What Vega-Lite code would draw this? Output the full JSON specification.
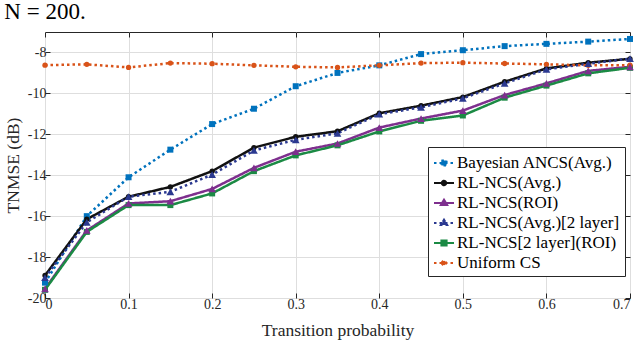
{
  "$schema": "https://vega.github.io/schema/vega-lite/v6.json",
  "width": 585,
  "height": 266,
  "autosize": "none",
  "padding": {"left": 45, "top": 32, "right": 10, "bottom": 65},
  "background": "white",
  "title": {"text": "N = 200.", "anchor": "start", "dx": 0, "dy": 13, "offset": 3, "baseline": "alphabetic", "font": "Liberation Serif", "fontSize": 23, "fontWeight": "normal", "color": "#000000"},
  "config": {
    "font": "Liberation Serif",
    "view": {"stroke": "#262626", "strokeWidth": 1},
    "axis": {"gridColor": "#dedede", "gridWidth": 1, "domain": false, "tickColor": "#262626", "tickSize": -5, "labelFont": "Liberation Serif", "labelFontSize": 14, "labelColor": "#262626", "titleFont": "Liberation Serif", "titleFontSize": 17.5, "titleFontWeight": "normal", "titleColor": "#262626"},
    "legend": {"labelFont": "Liberation Serif", "labelFontSize": 17, "symbolSize": 400, "symbolStrokeWidth": 2, "symbolOpacity": 1}
  },
  "data": {"values": [
    {"p":0,"s":"Bayesian ANCS(Avg.)","v":-19.25},{"p":0.05,"s":"Bayesian ANCS(Avg.)","v":-16.0},{"p":0.1,"s":"Bayesian ANCS(Avg.)","v":-14.1},{"p":0.15,"s":"Bayesian ANCS(Avg.)","v":-12.75},{"p":0.2,"s":"Bayesian ANCS(Avg.)","v":-11.5},{"p":0.25,"s":"Bayesian ANCS(Avg.)","v":-10.75},{"p":0.3,"s":"Bayesian ANCS(Avg.)","v":-9.65},{"p":0.35,"s":"Bayesian ANCS(Avg.)","v":-9.0},{"p":0.4,"s":"Bayesian ANCS(Avg.)","v":-8.63},{"p":0.45,"s":"Bayesian ANCS(Avg.)","v":-8.08},{"p":0.5,"s":"Bayesian ANCS(Avg.)","v":-7.89},{"p":0.55,"s":"Bayesian ANCS(Avg.)","v":-7.69},{"p":0.6,"s":"Bayesian ANCS(Avg.)","v":-7.58},{"p":0.65,"s":"Bayesian ANCS(Avg.)","v":-7.47},{"p":0.7,"s":"Bayesian ANCS(Avg.)","v":-7.34},
    {"p":0,"s":"RL-NCS(Avg.)","v":-18.9},{"p":0.05,"s":"RL-NCS(Avg.)","v":-16.15},{"p":0.1,"s":"RL-NCS(Avg.)","v":-15.05},{"p":0.15,"s":"RL-NCS(Avg.)","v":-14.57},{"p":0.2,"s":"RL-NCS(Avg.)","v":-13.8},{"p":0.25,"s":"RL-NCS(Avg.)","v":-12.65},{"p":0.3,"s":"RL-NCS(Avg.)","v":-12.12},{"p":0.35,"s":"RL-NCS(Avg.)","v":-11.85},{"p":0.4,"s":"RL-NCS(Avg.)","v":-10.97},{"p":0.45,"s":"RL-NCS(Avg.)","v":-10.6},{"p":0.5,"s":"RL-NCS(Avg.)","v":-10.18},{"p":0.55,"s":"RL-NCS(Avg.)","v":-9.43},{"p":0.6,"s":"RL-NCS(Avg.)","v":-8.78},{"p":0.65,"s":"RL-NCS(Avg.)","v":-8.5},{"p":0.7,"s":"RL-NCS(Avg.)","v":-8.31},
    {"p":0,"s":"RL-NCS(ROI)","v":-19.55},{"p":0.05,"s":"RL-NCS(ROI)","v":-16.7},{"p":0.1,"s":"RL-NCS(ROI)","v":-15.38},{"p":0.15,"s":"RL-NCS(ROI)","v":-15.27},{"p":0.2,"s":"RL-NCS(ROI)","v":-14.67},{"p":0.25,"s":"RL-NCS(ROI)","v":-13.64},{"p":0.3,"s":"RL-NCS(ROI)","v":-12.85},{"p":0.35,"s":"RL-NCS(ROI)","v":-12.45},{"p":0.4,"s":"RL-NCS(ROI)","v":-11.67},{"p":0.45,"s":"RL-NCS(ROI)","v":-11.23},{"p":0.5,"s":"RL-NCS(ROI)","v":-10.84},{"p":0.55,"s":"RL-NCS(ROI)","v":-10.08},{"p":0.6,"s":"RL-NCS(ROI)","v":-9.51},{"p":0.65,"s":"RL-NCS(ROI)","v":-8.9},{"p":0.7,"s":"RL-NCS(ROI)","v":-8.7},
    {"p":0,"s":"RL-NCS(Avg.)[2 layer]","v":-19.0},{"p":0.05,"s":"RL-NCS(Avg.)[2 layer]","v":-16.3},{"p":0.1,"s":"RL-NCS(Avg.)[2 layer]","v":-15.05},{"p":0.15,"s":"RL-NCS(Avg.)[2 layer]","v":-14.81},{"p":0.2,"s":"RL-NCS(Avg.)[2 layer]","v":-13.97},{"p":0.25,"s":"RL-NCS(Avg.)[2 layer]","v":-12.79},{"p":0.3,"s":"RL-NCS(Avg.)[2 layer]","v":-12.27},{"p":0.35,"s":"RL-NCS(Avg.)[2 layer]","v":-11.95},{"p":0.4,"s":"RL-NCS(Avg.)[2 layer]","v":-11.02},{"p":0.45,"s":"RL-NCS(Avg.)[2 layer]","v":-10.68},{"p":0.5,"s":"RL-NCS(Avg.)[2 layer]","v":-10.24},{"p":0.55,"s":"RL-NCS(Avg.)[2 layer]","v":-9.51},{"p":0.6,"s":"RL-NCS(Avg.)[2 layer]","v":-8.83},{"p":0.65,"s":"RL-NCS(Avg.)[2 layer]","v":-8.55},{"p":0.7,"s":"RL-NCS(Avg.)[2 layer]","v":-8.3},
    {"p":0,"s":"RL-NCS[2 layer](ROI)","v":-19.6},{"p":0.05,"s":"RL-NCS[2 layer](ROI)","v":-16.77},{"p":0.1,"s":"RL-NCS[2 layer](ROI)","v":-15.46},{"p":0.15,"s":"RL-NCS[2 layer](ROI)","v":-15.46},{"p":0.2,"s":"RL-NCS[2 layer](ROI)","v":-14.89},{"p":0.25,"s":"RL-NCS[2 layer](ROI)","v":-13.8},{"p":0.3,"s":"RL-NCS[2 layer](ROI)","v":-13.03},{"p":0.35,"s":"RL-NCS[2 layer](ROI)","v":-12.54},{"p":0.4,"s":"RL-NCS[2 layer](ROI)","v":-11.86},{"p":0.45,"s":"RL-NCS[2 layer](ROI)","v":-11.34},{"p":0.5,"s":"RL-NCS[2 layer](ROI)","v":-11.08},{"p":0.55,"s":"RL-NCS[2 layer](ROI)","v":-10.21},{"p":0.6,"s":"RL-NCS[2 layer](ROI)","v":-9.62},{"p":0.65,"s":"RL-NCS[2 layer](ROI)","v":-9.02},{"p":0.7,"s":"RL-NCS[2 layer](ROI)","v":-8.75},
    {"p":0,"s":"Uniform CS","v":-8.62},{"p":0.05,"s":"Uniform CS","v":-8.58},{"p":0.1,"s":"Uniform CS","v":-8.73},{"p":0.15,"s":"Uniform CS","v":-8.52},{"p":0.2,"s":"Uniform CS","v":-8.55},{"p":0.25,"s":"Uniform CS","v":-8.63},{"p":0.3,"s":"Uniform CS","v":-8.7},{"p":0.35,"s":"Uniform CS","v":-8.73},{"p":0.4,"s":"Uniform CS","v":-8.63},{"p":0.45,"s":"Uniform CS","v":-8.52},{"p":0.5,"s":"Uniform CS","v":-8.5},{"p":0.55,"s":"Uniform CS","v":-8.54},{"p":0.6,"s":"Uniform CS","v":-8.58},{"p":0.65,"s":"Uniform CS","v":-8.63},{"p":0.7,"s":"Uniform CS","v":-8.62}
  ]},
  "encoding": {
    "x": {"field": "p", "type": "quantitative", "scale": {"domain": [0, 0.7], "nice": false, "zero": false}, "axis": {"values": [0,0.1,0.2,0.3,0.4,0.5,0.6,0.7], "labelExpr": "'' + datum.value", "title": "Transition probability", "titlePadding": 10, "labelPadding": 4}},
    "y": {"field": "v", "type": "quantitative", "scale": {"domain": [-20, -7], "nice": false, "zero": false}, "axis": {"values": [-20,-18,-16,-14,-12,-10,-8], "labelExpr": "'' + datum.value", "title": "TNMSE (dB)", "titlePadding": 5, "labelPadding": 4}},
    "color": {"field": "s", "type": "nominal", "sort": null,
      "scale": {"domain": ["Bayesian ANCS(Avg.)","RL-NCS(Avg.)","RL-NCS(ROI)","RL-NCS(Avg.)[2 layer]","RL-NCS[2 layer](ROI)","Uniform CS"], "range": ["#0072BD","#111111","#7E2F8E","#2B3990","#1B8A44","#D95319"]},
      "legend": {"title": null, "orient": "none", "legendX": 383, "legendY": 115, "padding": 5, "strokeColor": "#262626", "fillColor": "white", "labelFont": "Liberation Serif", "labelFontSize": 17, "labelColor": "#000000", "labelLimit": 300, "symbolSize": 400, "symbolStrokeWidth": 2, "symbolOpacity": 1, "rowPadding": 1, "labelOffset": 2}}
  },
  "layer": [
    {
      "layer": [
        {
          "mark": {"type": "line", "strokeWidth": 2.5},
          "encoding": {
            "strokeDash": {"field": "s", "type": "nominal", "sort": null,
              "scale": {"domain": ["Bayesian ANCS(Avg.)","RL-NCS(Avg.)","RL-NCS(ROI)","RL-NCS(Avg.)[2 layer]","RL-NCS[2 layer](ROI)","Uniform CS"], "range": [[2.5,3],[1,0],[1,0],[2.5,3],[1,0],[2.5,3]]},
              "legend": {"title": null, "orient": "none", "legendX": 383, "legendY": 115, "padding": 5, "strokeColor": "#262626", "fillColor": "white", "labelFontSize": 17, "labelColor": "#000000", "labelLimit": 300, "symbolSize": 400, "symbolStrokeWidth": 2, "rowPadding": 1, "labelOffset": 2}}
          }
        },
        {
          "transform": [{"filter": {"field": "s", "oneOf": ["Bayesian ANCS(Avg.)","RL-NCS[2 layer](ROI)"]}}],
          "mark": {"type": "point", "shape": "square", "size": 36, "filled": true, "opacity": 1}
        },
        {
          "transform": [{"filter": {"field": "s", "oneOf": ["RL-NCS(Avg.)","Uniform CS"]}}],
          "mark": {"type": "point", "shape": "circle", "size": 28, "filled": true, "opacity": 1}
        },
        {
          "transform": [{"filter": "datum.p < 0"}],
          "mark": {"type": "point", "filled": true, "opacity": 1},
          "encoding": {
            "shape": {"field": "s", "type": "nominal", "sort": null,
              "scale": {"domain": ["Bayesian ANCS(Avg.)","RL-NCS(Avg.)","RL-NCS(ROI)","RL-NCS(Avg.)[2 layer]","RL-NCS[2 layer](ROI)","Uniform CS"], "range": ["M-1,0H1M-0.26,-0.26H0.26V0.26H-0.26Z","M-1,0H1M-0.22,0A0.22,0.22,0,1,1,0.22,0A0.22,0.22,0,1,1,-0.22,0Z","M-1,0H1M0,-0.34L0.32,0.2H-0.32Z","M-1,0H1M0,-0.34L0.32,0.2H-0.32Z","M-1,0H1M-0.26,-0.26H0.26V0.26H-0.26Z","M-1,0H1M-0.22,0A0.22,0.22,0,1,1,0.22,0A0.22,0.22,0,1,1,-0.22,0Z"]},
              "legend": {"title": null, "orient": "none", "legendX": 383, "legendY": 115, "padding": 5, "strokeColor": "#262626", "fillColor": "white", "labelFontSize": 17, "labelColor": "#000000", "labelLimit": 300, "symbolSize": 400, "symbolStrokeWidth": 2, "rowPadding": 1, "labelOffset": 2}}
          }
        }
      ]
    },
    {
      "transform": [{"filter": {"field": "s", "oneOf": ["RL-NCS(ROI)","RL-NCS(Avg.)[2 layer]"]}}],
      "mark": {"type": "point", "shape": "triangle-up", "size": 60, "filled": true, "opacity": 1},
      "encoding": {
        "x": {"field": "p", "type": "quantitative", "axis": {"orient": "top", "values": [0,0.1,0.2,0.3,0.4,0.5,0.6,0.7], "labels": false, "grid": false, "title": null}},
        "y": {"field": "v", "type": "quantitative", "axis": {"orient": "right", "values": [-20,-18,-16,-14,-12,-10,-8], "labels": false, "grid": false, "title": null}}
      }
    }
  ],
  "resolve": {"axis": {"x": "independent", "y": "independent"}}
}
